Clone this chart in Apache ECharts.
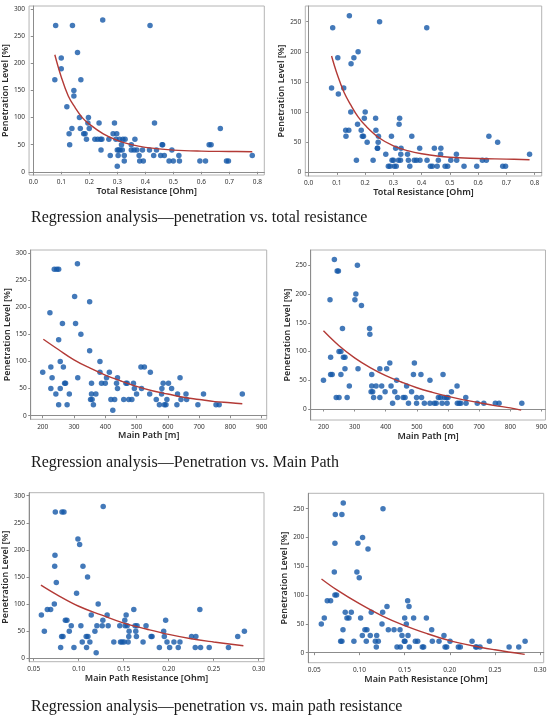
<!DOCTYPE html>
<html><head><meta charset="utf-8">
<script src="https://cdn.jsdelivr.net/npm/echarts@6/dist/echarts.min.js"></script>
<style>html,body{margin:0;padding:0;background:#fff}#c{width:550px;height:716px}</style>
</head><body><div id="c"></div>
<script>
// ---------- tick labels ----------
const ticksRes = [0, 0.1, 0.2, 0.3, 0.4, 0.5, 0.6, 0.7, 0.8];
const ticksPath = [200, 300, 400, 500, 600, 700, 800, 900];
const ticksPathRes = [0.05, 0.10, 0.15, 0.20, 0.25, 0.30];
const ticksPen300 = [0, 50, 100, 150, 200, 250, 300];
const ticksPen250 = [0, 50, 100, 150, 200, 250];

// ---------- titles ----------
const captions = [
  'Regression analysis\u2014penetration vs. total resistance',
  'Regression analysis\u2014Penetration vs. Main Path',
  'Regression analysis\u2014penetration vs. main path resistance'
];
const xTitles = ['Total Resistance [Ohm]', 'Main Path [m]', 'Main Path Resistance [Ohm]'];
const yTitle = 'Penetration Level [%]';

// ---------- panel 1: total resistance vs penetration (left metric) ----------
const p1Points = [[0.077,170],[0.08,270],[0.1,210],[0.1,190],[0.12,120],[0.128,70],[0.13,50],[0.138,80],[0.14,270],[0.145,150],[0.145,140],[0.158,220],[0.165,100],[0.17,170],[0.168,80],[0.18,70],[0.185,70],[0.19,60],[0.195,90],[0.197,100],[0.2,80],[0.22,60],[0.23,60],[0.235,90],[0.24,60],[0.242,40],[0.245,60],[0.248,280],[0.27,60],[0.275,30],[0.285,70],[0.29,90],[0.295,60],[0.298,70],[0.3,10],[0.3,40],[0.303,30],[0.305,40],[0.308,60],[0.31,40],[0.315,50],[0.318,40],[0.32,60],[0.325,30],[0.325,20],[0.328,60],[0.35,50],[0.35,40],[0.36,40],[0.363,60],[0.37,40],[0.378,30],[0.38,20],[0.39,40],[0.393,20],[0.415,40],[0.417,270],[0.43,30],[0.433,90],[0.44,40],[0.455,30],[0.46,50],[0.462,50],[0.468,30],[0.485,20],[0.495,40],[0.5,20],[0.52,30],[0.522,20],[0.595,20],[0.615,20],[0.628,50],[0.635,50],[0.668,80],[0.69,20],[0.697,20],[0.782,30]];
const p1Fit = [[0.077,216],[0.1,175],[0.125,140],[0.15,118],[0.175,100],[0.2,88],[0.25,70],[0.3,58],[0.35,50],[0.4,45],[0.5,40],[0.6,38],[0.7,37.5],[0.782,37]];

// ---------- panel 2: total resistance vs penetration (right metric) ----------
const p2Points = [[0.081,140],[0.085,240],[0.103,190],[0.105,130],[0.124,140],[0.131,70],[0.132,60],[0.142,70],[0.144,260],[0.149,100],[0.15,180],[0.16,190],[0.169,20],[0.173,80],[0.175,200],[0.186,70],[0.19,60],[0.194,60],[0.197,90],[0.2,100],[0.207,50],[0.228,20],[0.237,90],[0.238,70],[0.243,40],[0.246,50],[0.247,60],[0.244,40],[0.251,250],[0.273,30],[0.282,10],[0.288,10],[0.293,60],[0.295,20],[0.3,20],[0.303,10],[0.308,40],[0.31,10],[0.318,20],[0.32,80],[0.322,90],[0.325,20],[0.326,30],[0.327,40],[0.35,30],[0.353,20],[0.358,10],[0.365,60],[0.374,20],[0.382,20],[0.393,40],[0.394,20],[0.418,240],[0.419,20],[0.431,10],[0.438,10],[0.445,40],[0.455,10],[0.459,20],[0.467,30],[0.468,40],[0.483,10],[0.492,10],[0.503,20],[0.523,30],[0.524,20],[0.55,10],[0.595,10],[0.615,20],[0.629,20],[0.638,60],[0.669,50],[0.687,10],[0.697,10],[0.782,30]];
const p2Fit = [[0.081,193],[0.1,164],[0.125,133],[0.15,111],[0.175,92],[0.2,78],[0.25,57],[0.3,44],[0.35,36],[0.4,31],[0.5,25],[0.6,23],[0.7,22],[0.782,21]];

// ---------- panel 3: main path vs penetration (left metric) ----------
const p3Points = [[200,80],[223,190],[226,90],[226,50],[230,70],[237,270],[242,40],[245,270],[251,270],[251,140],[251,20],[256,50],[256,100],[263,170],[266,90],[270,60],[273,60],[278,20],[285,40],[302,220],[305,170],[311,280],[312,70],[322,150],[350,120],[350,210],[353,30],[356,60],[356,40],[358,30],[362,20],[370,40],[383,100],[383,80],[388,60],[400,60],[404,70],[413,80],[418,30],[424,10],[430,30],[436,60],[439,70],[439,50],[459,30],[466,60],[470,60],[475,30],[485,30],[490,60],[493,50],[500,40],[514,90],[516,50],[525,90],[542,40],[544,80],[563,30],[573,20],[580,40],[581,50],[585,60],[589,20],[594,20],[597,30],[602,60],[612,50],[629,20],[631,40],[639,70],[642,30],[658,40],[660,30],[696,20],[714,40],[754,20],[764,20],[838,40]];
const p3Fit = [[202,141],[250,122],[300,103],[350,88],[400,75],[450,64],[500,54],[550,46],[600,40],[650,34],[700,30],[750,26],[800,24],[838,22]];

// ---------- panel 4: main path vs penetration (right metric) ----------
const p4Points = [[200,50],[221,190],[223,90],[223,60],[228,60],[235,260],[241,20],[244,240],[248,240],[250,20],[250,100],[256,100],[256,60],[261,140],[264,90],[269,90],[269,70],[276,20],[283,40],[301,190],[304,200],[309,250],[311,70],[322,180],[348,140],[349,130],[353,30],[355,60],[355,40],[358,30],[361,20],[369,40],[381,70],[381,20],[387,40],[398,30],[403,70],[413,80],[417,40],[422,10],[429,30],[435,50],[438,20],[456,20],[462,20],[467,40],[473,10],[483,30],[489,60],[492,80],[499,20],[499,10],[513,60],[515,20],[524,10],[542,50],[542,10],[556,10],[562,10],[569,20],[576,20],[581,10],[584,60],[588,20],[595,20],[597,10],[600,20],[611,30],[629,40],[630,10],[636,10],[641,10],[657,20],[658,10],[694,10],[715,10],[752,10],[764,10],[837,10]];
const p4Fit = [[200,136],[250,110],[300,89],[350,72],[400,58],[450,47],[500,37],[550,29],[600,22],[650,16],[700,11],[750,6],[800,2],[835,-2]];

// ---------- panel 5: main path resistance vs penetration (left metric) ----------
const p5Points = [[0.0585,80],[0.0618,50],[0.0651,90],[0.0688,90],[0.0729,100],[0.0733,170],[0.0736,190],[0.074,270],[0.0751,140],[0.0799,20],[0.081,40],[0.0814,270],[0.0825,40],[0.0836,270],[0.0851,70],[0.0869,70],[0.0895,50],[0.0917,60],[0.0947,20],[0.0976,120],[0.0991,220],[0.101,210],[0.1024,60],[0.1039,30],[0.1047,170],[0.1083,40],[0.1087,20],[0.1098,150],[0.1102,40],[0.1124,30],[0.1139,80],[0.118,50],[0.1194,10],[0.1202,60],[0.1216,100],[0.1261,60],[0.1268,70],[0.1272,280],[0.1316,80],[0.1327,60],[0.139,30],[0.1456,60],[0.1464,30],[0.1482,30],[0.1504,30],[0.1512,70],[0.1516,60],[0.1527,80],[0.1538,60],[0.1549,30],[0.1556,40],[0.156,50],[0.1612,90],[0.1626,60],[0.1634,50],[0.1641,40],[0.1648,60],[0.1715,30],[0.1748,60],[0.1804,40],[0.1815,40],[0.1896,20],[0.1944,50],[0.1951,40],[0.1966,70],[0.1981,30],[0.201,20],[0.2058,30],[0.2106,20],[0.2125,30],[0.2254,40],[0.2295,20],[0.2302,40],[0.2346,90],[0.2354,20],[0.245,20],[0.2664,20],[0.2767,40],[0.2841,50]];
const p5Fit = [[0.058,135],[0.075,118],[0.1,96],[0.125,80],[0.15,65],[0.175,54],[0.2,44],[0.225,36],[0.25,30],[0.283,23]];

// ---------- panel 6: main path resistance vs penetration (right metric) ----------
const p6Points = [[0.0578,50],[0.0611,60],[0.0644,90],[0.0681,90],[0.0722,140],[0.0729,190],[0.0733,240],[0.0729,100],[0.0747,100],[0.0792,20],[0.0806,20],[0.0806,240],[0.0818,40],[0.0821,260],[0.0843,70],[0.0862,60],[0.0884,60],[0.091,70],[0.0939,20],[0.0972,140],[0.0983,190],[0.0998,130],[0.1013,60],[0.1032,30],[0.1035,200],[0.1061,40],[0.1076,20],[0.1083,40],[0.1095,180],[0.112,30],[0.1131,70],[0.1176,20],[0.1187,10],[0.1191,30],[0.1209,20],[0.125,50],[0.1257,70],[0.1261,250],[0.1305,80],[0.132,40],[0.1383,40],[0.1416,10],[0.1449,40],[0.1453,10],[0.1471,30],[0.1497,20],[0.1501,60],[0.1504,20],[0.1519,50],[0.1534,90],[0.1538,30],[0.1549,80],[0.1552,10],[0.16,60],[0.1619,20],[0.1645,20],[0.1696,10],[0.1711,10],[0.1741,60],[0.18,40],[0.1807,20],[0.1881,20],[0.1936,30],[0.1948,10],[0.1966,10],[0.2003,20],[0.2095,10],[0.2117,10],[0.2247,20],[0.2287,10],[0.2298,10],[0.2335,10],[0.2439,20],[0.2657,10],[0.2764,10],[0.2834,20]];
const p6Fit = [[0.058,128],[0.075,109],[0.1,85],[0.125,64],[0.15,47],[0.175,33],[0.2,21],[0.225,12],[0.25,5],[0.283,-3]];

// ---------- layout ----------
const panels = [
  {grid:{left:28.3, top:6, width:236, height:169}, x:[-0.015,0.825], y:[-6,306], xt:ticksRes, yt:ticksPen300, dec:1, xTitle:xTitles[0], pts:p1Points, fit:p1Fit},
  {grid:{left:305.3, top:6, width:236.4, height:170}, x:[-0.012,0.825], y:[-6,276], xt:ticksRes, yt:ticksPen250, dec:1, xTitle:xTitles[0], pts:p2Points, fit:p2Fit},
  {grid:{left:30.7, top:250, width:236, height:169.3}, x:[161.6,916], y:[-6.6,305.5], xt:ticksPath, yt:ticksPen300, dec:0, xTitle:xTitles[1], pts:p3Points, fit:p3Fit},
  {grid:{left:310.7, top:250, width:235, height:170}, x:[159,913], y:[-19.1,276.6], xt:ticksPath, yt:ticksPen250, dec:0, xTitle:xTitles[1], pts:p4Points, fit:p4Fit},
  {grid:{left:28.3, top:492.7, width:235.7, height:169}, x:[0.0448,0.3059], y:[-6.3,305.5], xt:ticksPathRes, yt:ticksPen300, dec:2, xTitle:xTitles[2], pts:p5Points, fit:p5Fit},
  {grid:{left:308.3, top:493.3, width:235.4, height:169.4}, x:[0.0434,0.304], y:[-17.4,276.7], xt:ticksPathRes, yt:ticksPen250, dec:2, xTitle:xTitles[2], pts:p6Points, fit:p6Fit}
];

const sans = 'Noto Sans';
const axisColor = '#8c8c8c';
const grids = [], xAxes = [], yAxes = [], series = [];
panels.forEach((p, i) => {
  grids.push(Object.assign({show:true, borderColor:'#b4b4b4', borderWidth:1, backgroundColor:'#fff'}, p.grid));
  xAxes.push({
    type:'value', gridIndex:i, min:p.x[0], max:p.x[1],
    name:p.xTitle, nameLocation:'middle', nameGap:11,
    nameTextStyle:{fontFamily:sans, fontSize:9, fontWeight:600, color:'#2a2a2a', verticalAlign:'top'},
    axisLine:{show:true, lineStyle:{color:axisColor, width:1}},
    axisTick:{show:true, length:2.5, lineStyle:{color:axisColor}, customValues:p.xt},
    axisLabel:{fontFamily:sans, fontSize:6.5, color:'#333', margin:4, customValues:p.xt,
      formatter:(v)=>Number(v).toFixed(p.dec)},
    splitLine:{show:false}
  });
  yAxes.push({
    type:'value', gridIndex:i, min:p.y[0], max:p.y[1],
    name:yTitle, nameLocation:'middle', nameGap:14, nameRotate:90,
    nameTextStyle:{fontFamily:sans, fontSize:9, fontWeight:600, color:'#2a2a2a'},
    axisLine:{show:true, lineStyle:{color:axisColor, width:1}},
    axisTick:{show:true, length:2.5, lineStyle:{color:axisColor}, customValues:p.yt},
    axisLabel:{fontFamily:sans, fontSize:6.5, color:'#333', margin:4, customValues:p.yt},
    splitLine:{show:false}
  });
  series.push({
    type:'scatter', xAxisIndex:i, yAxisIndex:i, data:p.pts,
    symbol:'circle', symbolSize:5.5, itemStyle:{color:'#1458a8'}, z:2, silent:true
  });
  series.push({
    type:'line', xAxisIndex:i, yAxisIndex:i, data:p.fit, smooth:0.4,
    showSymbol:false, lineStyle:{color:'#b33a36', width:1.4}, z:3, silent:true
  });
});

const serif = 'Liberation Serif';
const titles = [
  {text:captions[0], left:31, top:209},
  {text:captions[1], left:31, top:454},
  {text:captions[2], left:31, top:698}
].map(t => Object.assign(t, {padding:0, textStyle:{fontFamily:serif, fontSize:16, lineHeight:18, fontWeight:'normal', color:'#1a1a1a'}}));

const chart = echarts.init(document.getElementById('c'), null, {renderer:'canvas'});
chart.setOption({
  backgroundColor:'#fff', animation:false,
  title:titles, grid:grids, xAxis:xAxes, yAxis:yAxes, series:series
});
</script></body></html>
